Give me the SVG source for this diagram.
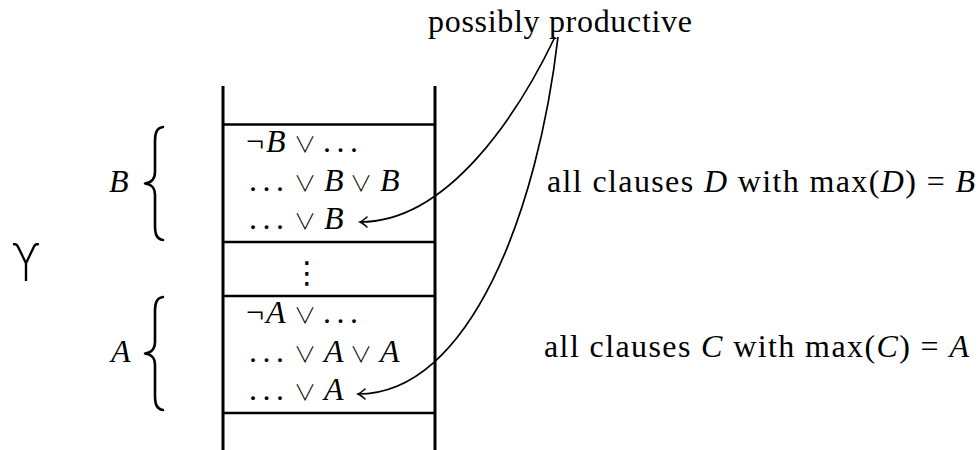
<svg xmlns="http://www.w3.org/2000/svg" width="979" height="450" viewBox="0 0 979 450">
<style>
  text { font-family: "Liberation Serif", "DejaVu Serif", serif; font-size: 32px; fill: #000; }
  .i { font-style: italic; }
  .op { font-family: "Noto Sans CJK JP", "DejaVu Sans", sans-serif; font-size: 22px; font-weight: 300; }
  .dots { letter-spacing: 5.5px; }
  .vd { font-family: "DejaVu Sans", sans-serif; font-size: 30px; }
  .wall { stroke: #000; stroke-width: 3; }
  .sep { stroke: #000; stroke-width: 2.5; }
  .brace { fill: none; stroke: #000; stroke-width: 2.6; stroke-linecap: round; stroke-linejoin: round; }
  .conn { fill: none; stroke: #000; stroke-width: 1.7; }
  .sym { font-family: "Inter", "Noto Sans", "DejaVu Sans", sans-serif; font-weight: 200; font-size: 52px; }
</style>
<defs>
  <marker id="tip" markerUnits="userSpaceOnUse" markerWidth="12" markerHeight="12" viewBox="-9 -6 10 12" refX="0" refY="0" orient="auto" overflow="visible">
    <path d="M -7,-5 Q -2.5,-1 0,0 Q -2.5,1 -7,5" fill="none" stroke="#000" stroke-width="1.6" stroke-linecap="round"/>
  </marker>
</defs>

<g id="order-symbol">
  <text class="sym" x="26" y="281" text-anchor="middle">ϒ</text>
</g>

<g id="stack">
  <line class="wall" x1="223" y1="86" x2="223" y2="450"/>
  <line class="wall" x1="435" y1="86" x2="435" y2="450"/>
  <line class="sep" x1="223" y1="124.5" x2="435" y2="124.5"/>
  <line class="sep" x1="223" y1="242" x2="435" y2="242"/>
  <line class="sep" x1="223" y1="296" x2="435" y2="296"/>
  <line class="sep" x1="223" y1="413" x2="435" y2="413"/>
</g>

<g id="box-B">
  <text y="152"><tspan x="246">¬</tspan><tspan class="i" x="266">B</tspan><tspan class="op" x="294">∨</tspan><tspan class="dots" x="323">...</tspan></text>
  <text y="191"><tspan class="dots" x="249">...</tspan><tspan class="op" x="294">∨</tspan><tspan class="i" x="324">B</tspan><tspan class="op" x="350">∨</tspan><tspan class="i" x="380">B</tspan></text>
  <text y="229"><tspan class="dots" x="249">...</tspan><tspan class="op" x="294">∨</tspan><tspan class="i" x="324">B</tspan></text>
</g>

<g id="vdots">
  <text class="vd" x="307" y="283" text-anchor="middle">⋮</text>
</g>

<g id="box-A">
  <text y="323"><tspan x="246">¬</tspan><tspan class="i" x="266">A</tspan><tspan class="op" x="294">∨</tspan><tspan class="dots" x="323">...</tspan></text>
  <text y="362"><tspan class="dots" x="249">...</tspan><tspan class="op" x="294">∨</tspan><tspan class="i" x="324">A</tspan><tspan class="op" x="350">∨</tspan><tspan class="i" x="380">A</tspan></text>
  <text y="400"><tspan class="dots" x="249">...</tspan><tspan class="op" x="294">∨</tspan><tspan class="i" x="324">A</tspan></text>
</g>

<g id="brace-B">
  <text class="i" x="109" y="192">B</text>
  <path class="brace" d="M 163,127 C 156,128 155,134 155,142 L 155,172 C 155,179 151,183 145,183.5 C 151,184 155,188 155,195 L 155,225 C 155,233 156,239 163,240"/>
</g>

<g id="brace-A">
  <text class="i" x="111" y="362">A</text>
  <path class="brace" transform="translate(0,170)" d="M 163,127 C 156,128 155,134 155,142 L 155,172 C 155,179 151,183 145,183.5 C 151,184 155,188 155,195 L 155,225 C 155,233 156,239 163,240"/>
</g>

<g id="label-productive">
  <text x="428" y="32" textLength="264" lengthAdjust="spacing">possibly productive</text>
</g>

<g id="label-D">
  <text x="547" y="192" textLength="428" lengthAdjust="spacing">all clauses <tspan class="i">D</tspan> with max(<tspan class="i">D</tspan>) = <tspan class="i">B</tspan></text>
</g>

<g id="label-C">
  <text x="544" y="357" textLength="425" lengthAdjust="spacing">all clauses <tspan class="i">C</tspan> with max(<tspan class="i">C</tspan>) = <tspan class="i">A</tspan></text>
</g>

<g id="connectors">
  <path class="conn" d="M 555,37 C 520,110 450,222 360,222" marker-end="url(#tip)"/>
  <path class="conn" d="M 558,37 C 538,210 470,394 358,394" marker-end="url(#tip)"/>
</g>
</svg>
